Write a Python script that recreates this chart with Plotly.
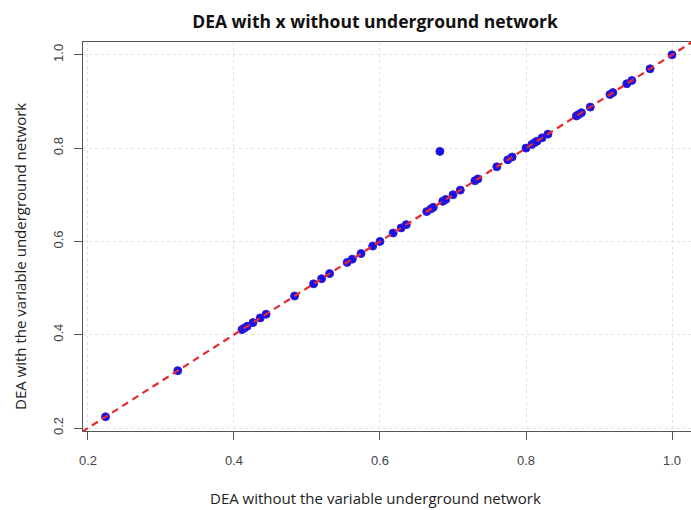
import plotly.graph_objects as go

# DEA efficiency scores
dea_without = [0.224, 0.323, 0.411, 0.414, 0.418, 0.426, 0.436, 0.444, 0.483,
               0.509, 0.520, 0.531, 0.555, 0.562, 0.574, 0.590, 0.600, 0.618,
               0.629, 0.636, 0.664, 0.670, 0.673, 0.686, 0.690, 0.700, 0.710,
               0.730, 0.734, 0.760, 0.775, 0.781, 0.800, 0.808, 0.812, 0.815,
               0.822, 0.830, 0.869, 0.872, 0.876, 0.888, 0.915, 0.919, 0.938,
               0.945, 0.970, 1.000, 0.682]
dea_with = [0.224, 0.323, 0.411, 0.414, 0.418, 0.426, 0.436, 0.444, 0.483,
            0.509, 0.520, 0.531, 0.555, 0.562, 0.574, 0.590, 0.600, 0.618,
            0.629, 0.636, 0.664, 0.670, 0.673, 0.686, 0.690, 0.700, 0.710,
            0.730, 0.734, 0.760, 0.775, 0.781, 0.800, 0.808, 0.812, 0.815,
            0.822, 0.830, 0.869, 0.872, 0.876, 0.888, 0.915, 0.919, 0.938,
            0.945, 0.970, 1.000, 0.793]
diag = [0.15, 1.10]
tick_vals = [0.2, 0.4, 0.6, 0.8, 1.0]
tick_text = ["0.2", "0.4", "0.6", "0.8", "1.0"]

W, H = 691, 510
L, R, T, B = 83, 0, 42, 510 - 431
PW, PH = W - L - R, H - T - B


def px_x(x):  # window pixel -> paper fraction
    return (x - L) / PW


def px_y(y):
    return (H - B - y) / PH


fig = go.Figure()
fig.add_trace(go.Scatter(
    x=dea_without, y=dea_with, mode="markers",
    marker=dict(color="#1010f0", size=8, line=dict(color="#3a20c8", width=1)),
    showlegend=False, hoverinfo="x+y"))
fig.add_trace(go.Scatter(
    x=diag, y=diag, mode="lines",
    line=dict(color="#e8282c", width=2.2, dash="7px,5px"),
    showlegend=False, hoverinfo="skip"))

axis_common = dict(
    tickvals=tick_vals, ticktext=tick_text, automargin=False,
    showgrid=True, gridcolor="#e2e2e2", griddash="dot", gridwidth=1,
    zeroline=False, ticks="outside", ticklen=8, tickcolor="#555555",
    tickwidth=1, showline=True, linecolor="#555555", linewidth=1.2,
    tickfont=dict(family="Liberation Sans, Arial, sans-serif", size=13,
                  color="#444444"),
)

fig.update_layout(
    width=W, height=H,
    margin=dict(l=L, r=R, t=T, b=B, autoexpand=False),
    paper_bgcolor="white", plot_bgcolor="white",
    title=dict(text="<b>DEA with x without underground network</b>",
               x=375 / W, xanchor="center",
               y=1 - 22 / H, yanchor="middle",
               font=dict(family="Open Sans, sans-serif", size=17.5,
                         color="#111111")),
    xaxis=dict(range=[0.1932, 1.026], mirror=True,
               ticklabelstandoff=9, **axis_common),
    yaxis=dict(range=[0.1936, 1.0275], mirror=False, tickangle=-90,
               ticklabelstandoff=6, **axis_common),
    annotations=[
        dict(text="DEA without the variable underground network",
             xref="paper", yref="paper",
             x=px_x(375), y=px_y(498),
             xanchor="center", yanchor="middle", showarrow=False,
             font=dict(family="Open Sans, sans-serif", size=15,
                       color="#222222")),
        dict(text="DEA with the variable underground network",
             xref="paper", yref="paper", textangle=-90,
             x=px_x(20), y=px_y(257),
             xanchor="center", yanchor="middle", showarrow=False,
             font=dict(family="Open Sans, sans-serif", size=15,
                       color="#222222")),
    ],
)

# remove the default 8px page margin so the figure fills the window exactly
fig.write_html("out.html",
               config={"displayModeBar": False},
               post_script="document.body.style.margin='0';"
                           "document.body.style.overflow='hidden';")
